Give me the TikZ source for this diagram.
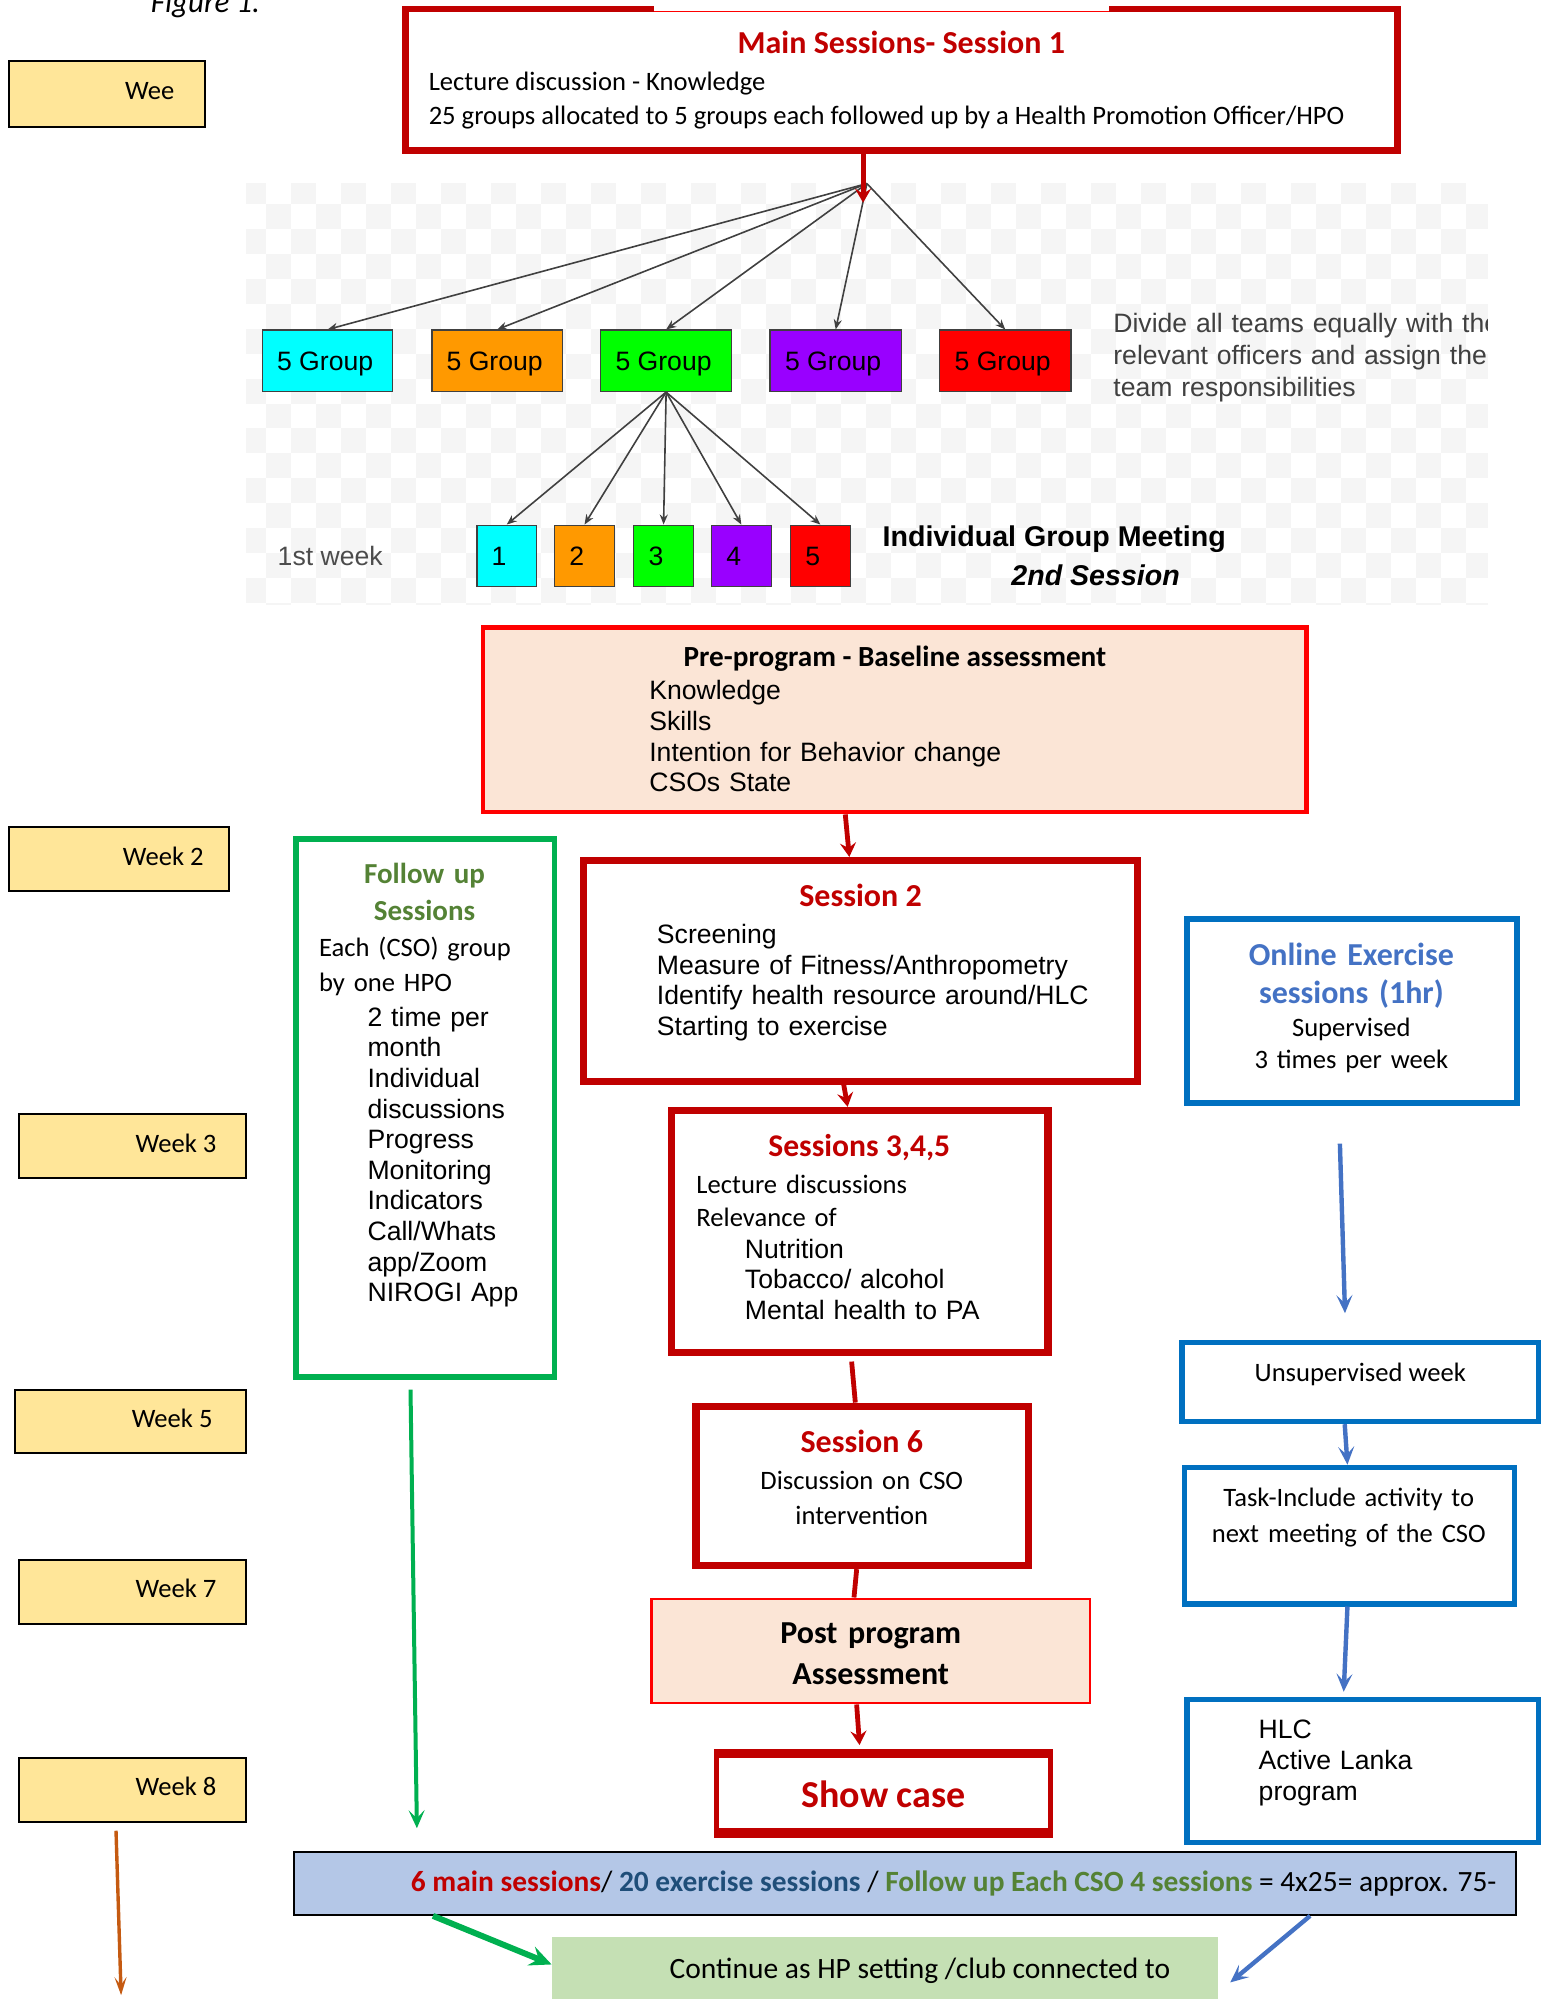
\documentclass[tikz,border=0pt]{standalone}
\usepackage{fontspec}
\setmainfont{Carlito}
\newfontfamily\arialf{Liberation Sans}
\usepackage{tikz}
\usetikzlibrary{calc,fit,arrows.meta}

\definecolor{dred}{HTML}{C00000}
\definecolor{peach}{HTML}{FBE5D6}
\definecolor{wkyellow}{HTML}{FFE699}
\definecolor{fgreen}{HTML}{00B050}
\definecolor{tgreen}{HTML}{548235}
\definecolor{oblue}{HTML}{0070C0}
\definecolor{tblue}{HTML}{4472C4}
\definecolor{nblue}{HTML}{1F4E79}
\definecolor{barblue}{HTML}{B4C7E7}
\definecolor{lgreen}{HTML}{C5E0B4}
\definecolor{rust}{HTML}{C55A11}
\definecolor{chk}{HTML}{F5F5F5}
\definecolor{gcyan}{HTML}{00FFFF}
\definecolor{gorange}{HTML}{FF9900}
\definecolor{ggreen}{HTML}{00FF00}
\definecolor{gpurple}{HTML}{9900FF}
\definecolor{gred}{HTML}{FF0000}

\tikzset{
  plainbox/.style={inner sep=0, line join=miter},
  weekbox/.style={plainbox, draw=black, fill=wkyellow, line width=1pt},
  redbox/.style={plainbox, draw=dred, line width=3.6pt},
  peachbox/.style={plainbox, draw=red, fill=peach},
  bluebox/.style={plainbox, draw=oblue, line width=2.7pt},
  grpbox/.style={plainbox, draw=black!75, line width=0.7pt},
  cal/.style={inner sep=0, font=\fontsize{13.3}{#1}\selectfont},
  cal/.default=17,
  atxt/.style={inner sep=0, font=\arialf\fontsize{13.3}{15.3}\selectfont},
  ttl/.style={inner sep=0, text=dred, font=\bfseries\fontsize{16}{19}\selectfont},
  redarrow/.style={dred, line width=2.4pt, -{Stealth[length=7pt, width=8pt, inset=2.5pt]}},
  greyarrow/.style={black!75, line width=0.8pt, -{Stealth[length=5pt, width=4pt]}},
  bluearrow/.style={tblue, line width=2.2pt, -{Stealth[length=9pt, width=8pt, inset=4pt]}},
  greenarrow/.style={fgreen, line width=2pt, -{Stealth[length=9pt, width=8pt, inset=4pt]}},
}

\begin{document}
\begin{tikzpicture}[x=0.6375pt, y=-0.6375pt]
  \useasboundingbox (0,0) rectangle (1216,1568);

  % checkered backdrop of the group tree
  \begin{scope}
    \clip (193,144) rectangle (1167,474);
    \foreach \i in {0,...,50}{
      \foreach \j in {0,...,17}{
        \pgfmathtruncatemacro\chkodd{mod(\i+\j,2)}
        \ifnum\chkodd=0 \fill[chk] ({189.4+19.6*\i},{140.1+19.6*\j}) rectangle ++(19.6,19.6);\fi
      }
    }
    \node[atxt, text=black!75, anchor=base west, text width=12cm, align=left,
      font=\arialf\fontsize{13.3}{15.9}\selectfont] (divt) at (873,261)
      {Divide all teams equally with the\\relevant officers and assign them\\team responsibilities};
  \end{scope}

  \node[anchor=base west, inner sep=0, font=\itshape\fontsize{15.5}{18}\selectfont] (fig) at (118,10) {Figure 1.};

  % week labels
  \node[weekbox, fit={(7,48) (161,100)}] (w1) {};
  \node[cal, anchor=mid east] (w1t) at (137,74) {Wee};
  \node[weekbox, fit={(7,649) (180,699)}] (w2) {};
  \node[cal, anchor=mid east] (w2t) at (160,675) {Week 2};
  \node[weekbox, fit={(15,874) (193,924)}] (w3) {};
  \node[cal, anchor=mid east] (w3t) at (170,900) {Week 3};
  \node[weekbox, fit={(12,1090) (193,1140)}] (w5) {};
  \node[cal, anchor=mid east] (w5t) at (167,1116) {Week 5};
  \node[weekbox, fit={(15,1224) (193,1274)}] (w7) {};
  \node[cal, anchor=mid east] (w7t) at (170,1249) {Week 7};
  \node[weekbox, fit={(15,1379) (193,1429)}] (w8) {};
  \node[cal, anchor=mid east] (w8t) at (170,1405) {Week 8};

  % session 1
  \node[redbox, line width=3.3pt, fit={(318,7) (1096,118)}] (main) {};
  \draw[white, line width=3.4pt] (513,7) -- (870,7);
  \draw[red, line width=0.5pt] (513,8.8) -- (870,8.8);
  \node[ttl, anchor=base] (maint) at (707,42) {Main Sessions- Session 1};
  \node[cal, anchor=base west] (main1) at (336,71) {Lecture discussion - Knowledge};
  \node[cal, anchor=base west] (main2) at (336,98) {25 groups allocated to 5 groups each followed up by a Health Promotion Officer/HPO};

  % group tree
  \coordinate (fan) at (680,144);
  \coordinate (fantip) at (677,159);
  \node[grpbox, fill=gcyan, fit={(206,259) (308,307)}] (g1) {};
  \node[grpbox, fill=gorange, fit={(339,259) (441,307)}] (g2) {};
  \node[grpbox, fill=ggreen, fit={(471,259) (574,307)}] (g3) {};
  \node[grpbox, fill=gpurple, fit={(604,259) (707,307)}] (g4) {};
  \node[grpbox, fill=gred, fit={(737,259) (840,307)}] (g5) {};
  \node[atxt, anchor=mid] (g1t) at ($(g1)+(-2,4)$) {5 Group};
  \node[atxt, anchor=mid] (g2t) at ($(g2)+(-2,4)$) {5 Group};
  \node[atxt, anchor=mid] (g3t) at ($(g3)+(-2,4)$) {5 Group};
  \node[atxt, anchor=mid] (g4t) at ($(g4)+(-2,4)$) {5 Group};
  \node[atxt, anchor=mid] (g5t) at ($(g5)+(-2,4)$) {5 Group};

  \node[grpbox, fill=gcyan, fit={(374,412) (421,460)}] (n1) {};
  \node[grpbox, fill=gorange, fit={(435,412) (482,460)}] (n2) {};
  \node[grpbox, fill=ggreen, fit={(497,412) (544,460)}] (n3) {};
  \node[grpbox, fill=gpurple, fit={(558,412) (605,460)}] (n4) {};
  \node[grpbox, fill=gred, fit={(620,412) (667,460)}] (n5) {};
  \node[atxt, anchor=mid] (n1t) at ($(n1)+(-6,4)$) {1};
  \node[atxt, anchor=mid] (n2t) at ($(n2)+(-6,4)$) {2};
  \node[atxt, anchor=mid] (n3t) at ($(n3)+(-6,4)$) {3};
  \node[atxt, anchor=mid] (n4t) at ($(n4)+(-6,4)$) {4};
  \node[atxt, anchor=mid] (n5t) at ($(n5)+(-6,4)$) {5};

  \draw[greyarrow] (fan) -- (g1.north);
  \draw[greyarrow] (fan) -- (g2.north);
  \draw[greyarrow] (fan) -- (g3.north);
  \draw[greyarrow] (fan) -- (g4.north);
  \draw[greyarrow] (fan) -- (g5.north);
  \draw[greyarrow] (g3.south) -- (n1.north);
  \draw[greyarrow] (g3.south) -- (n2.north);
  \draw[greyarrow] (g3.south) -- (n3.north);
  \draw[greyarrow] (g3.south) -- (n4.north);
  \draw[greyarrow] (g3.south) -- (n5.north);
  \draw[redarrow] (main.south -| fantip) -- (fantip);

  \node[atxt, text=black!70, anchor=mid] (wk1) at (259,440) {1st week};
  \node[inner sep=0, anchor=base west, font=\arialf\bfseries\fontsize{14.3}{16}\selectfont] (igm) at (692,429) {Individual Group Meeting};
  \node[inner sep=0, anchor=base west, font=\arialf\bfseries\itshape\fontsize{14.3}{16}\selectfont] (igm2) at (793,459) {2nd Session};

  % baseline
  \node[peachbox, line width=2.3pt, fit={(379,492) (1025,637)}] (pre) {};
  \node[inner sep=0, font=\bfseries\fontsize{14.6}{17}\selectfont, anchor=base] (pret) at (702,523) {Pre-program - Baseline assessment};
  \node[atxt, anchor=base west, text width=8cm, align=left] (prel) at (509,549)
    {Knowledge\\Skills\\Intention for Behavior change\\CSOs State};

  % follow up column
  \node[plainbox, draw=fgreen, line width=2.8pt, fit={(232,658) (435,1080)}] (fol) {};
  \node[inner sep=0, text=tgreen, font=\bfseries\fontsize{14.5}{18.5}\selectfont, text width=5cm, align=center, anchor=base] (folt) at (333,693) {Follow up\\Sessions};
  \node[cal=17.9, anchor=base west, text width=5cm, align=left] (fol1) at (250,750) {Each (CSO) group\\by one HPO};
  \node[atxt, anchor=base west, text width=5cm, align=left] (fol2) at (288,805)
    {2 time per\\month\\Individual\\discussions\\Progress\\Monitoring\\Indicators\\Call/Whats\\app/Zoom\\NIROGI App};

  % main sessions
  \node[redbox, fit={(458,675) (892,848)}] (ses2) {};
  \node[ttl, anchor=base] (ses2t) at (675,711) {Session 2};
  \node[atxt, anchor=base west, text width=8cm, align=left] (ses2l) at (515,740)
    {Screening\\Measure of Fitness/Anthropometry\\Identify health resource around/HLC\\Starting to exercise};

  \node[redbox, fit={(527,871) (822,1061)}] (s345) {};
  \node[ttl, font=\bfseries\fontsize{15.8}{18}\selectfont, anchor=base] (s345t) at (674,907) {Sessions 3,4,5};
  \node[cal=16.6, anchor=base west, text width=6cm, align=left] (s345a) at (546,936) {Lecture discussions\\Relevance of};
  \node[atxt, anchor=base west, text width=6cm, align=left] (s345b) at (584,987) {Nutrition\\Tobacco/ alcohol\\Mental health to PA};

  \node[redbox, fit={(546,1103) (807,1228)}] (ses6) {};
  \node[ttl, anchor=base] (ses6t) at (676,1139) {Session 6};
  \node[cal=17.9, anchor=base, text width=6cm, align=center] (ses6l) at (676,1168) {Discussion on CSO\\intervention};

  \node[peachbox, line width=1.2pt, fit={(511,1254) (855,1336)}] (post) {};
  \node[inner sep=0, font=\bfseries\fontsize{16}{20.4}\selectfont, text width=6cm, align=center, anchor=base] (postt) at (683,1289) {Post program\\Assessment};

  \node[plainbox, draw=dred, line width=2.5pt, fit={(562,1377) (824,1436)}] (show) {};
  \draw[dred, line width=4.5pt] (show.north west) -- (show.north east);
  \draw[dred, line width=4.5pt] (show.south west) -- (show.south east);
  \node[inner sep=0, text=dred, font=\bfseries\fontsize{19}{22}\selectfont, anchor=base] (showt) at (693,1418) {Show case};

  % exercise column
  \node[bluebox, line width=3pt, fit={(931,721) (1190,865)}] (onl) {};
  \node[inner sep=0, text=tblue, font=\bfseries\fontsize{16}{19.1}\selectfont, text width=6cm, align=center, anchor=base] (onlt) at (1060,757) {Online Exercise\\sessions (1hr)};
  \node[cal=16, text width=6cm, align=center, anchor=base] (onll) at (1060,813) {Supervised\\3 times per week};

  \node[bluebox, fit={(927,1053) (1207,1115)}] (uns) {};
  \node[cal, anchor=mid] (unst) at (1067,1080) {Unsupervised week};
  \node[bluebox, fit={(929,1151) (1188,1258)}] (task) {};
  \node[cal=17.9, text width=6cm, align=center, anchor=base] (taskt) at (1058,1182) {Task-Include activity to\\next meeting of the CSO};
  \node[bluebox, fit={(931,1333) (1207,1445)}] (hlc) {};
  \node[atxt, anchor=base west, text width=5cm, align=left] (hlct) at (987,1364) {HLC\\Active Lanka\\program};

  % totals
  \node[plainbox, draw=black, fill=barblue, line width=1pt, fit={(231,1453) (1189,1502)}] (bar) {};
  \node[inner sep=0, font=\fontsize{14.7}{17}\selectfont, anchor=base west] (bart) at (322,1484)
    {\textcolor{dred}{\bfseries 6 main sessions}/ \textcolor{nblue}{\bfseries 20 exercise sessions} / \textcolor{tgreen}{\bfseries Follow up Each CSO 4 sessions} = 4x25= approx. 75-};
  \node[plainbox, fill=lgreen, fit={(433,1519) (955,1590)}] (cont) {};
  \node[inner sep=0, font=\fontsize{14.75}{17}\selectfont, anchor=base west] (contt) at (525,1552) {Continue as HP setting /club connected to};

  % connectors
  \draw[redarrow] ($(pre.south west)!0.44!(pre.south east)$) -- ($(ses2.north west)!0.48!(ses2.north east)$);
  \draw[redarrow] ($(ses2.south west)!0.47!(ses2.south east)$) -- ($(s345.north west)!0.468!(s345.north east)$);
  \coordinate (r3s) at (668,1068);
  \draw[dred, line width=2.4pt] (r3s) -- ($(ses6.north west)!0.479!(ses6.north east)$);
  \draw[dred, line width=2.4pt] ($(ses6.south west)!0.483!(ses6.south east)$) -- ($(post.north west)!0.462!(post.north east)$);
  \draw[redarrow, shorten >=4pt] ($(post.south west)!0.468!(post.south east)$) -- ($(show.north west)!0.431!(show.north east)$);

  \coordinate (b1s) at (1051,897);
  \coordinate (b1e) at (1055,1030);
  \draw[bluearrow] (b1s) -- (b1e);
  \draw[bluearrow] ($(uns.south west)!0.457!(uns.south east)$) -- ($(task.north west)!0.494!(task.north east)$);
  \coordinate (b3e) at (1054,1327);
  \draw[bluearrow] ($(task.south west)!0.494!(task.south east)$) -- (b3e);

  \coordinate (gs) at (322,1090);
  \coordinate (ge) at (327,1434);
  \draw[greenarrow] (gs) -- (ge);
  \coordinate (os) at (91,1436);
  \coordinate (oe) at (95,1565);
  \draw[rust, line width=1.7pt, -{Stealth[length=9pt, width=6pt, inset=4pt]}] (os) -- (oe);

  \draw[greenarrow, line width=3pt, -{Stealth[length=11pt, width=10pt, inset=4pt]}] ($(bar.south west)!0.114!(bar.south east)$) -- ($(cont.north west)!0.31!(cont.south west)$);
  \coordinate (cbe) at (965,1555);
  \draw[bluearrow] ($(bar.south west)!0.831!(bar.south east)$) -- (cbe);
\end{tikzpicture}
\end{document}
